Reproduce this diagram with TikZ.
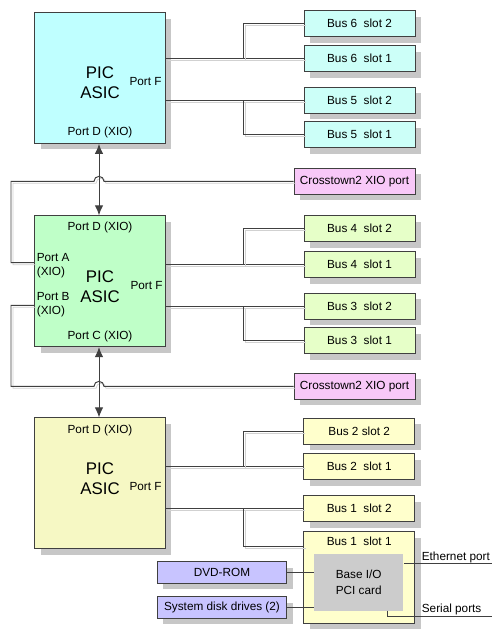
\documentclass[tikz,border=0pt]{standalone}
\usepackage{fontspec}
\setmainfont{Liberation Sans}
\usetikzlibrary{arrows.meta,shadows}
\definecolor{picA}{HTML}{BFFFFF}
\definecolor{busA}{HTML}{CCFFF8}
\definecolor{picB}{HTML}{BFFFC8}
\definecolor{busB}{HTML}{E6FFC8}
\definecolor{picC}{HTML}{F6F8C4}
\definecolor{busC}{HTML}{FFFFCC}
\definecolor{xtown}{HTML}{F8C8F8}
\definecolor{drivecol}{HTML}{C8C4FF}
\definecolor{cardcol}{HTML}{CCCCCC}
\tikzset{
  panel/.style={draw=black!75, line width=0.5pt, inner sep=0pt,
    font=\fontsize{6.7}{7.9}\selectfont,
    drop shadow={shadow xshift=0.12cm, shadow yshift=-0.12cm, fill=black!22, opacity=1}},
  chip/.style={panel, minimum width=2.62cm, minimum height=2.62cm},
  slot/.style={panel, minimum width=2.22cm, minimum height=0.52cm},
  xport/.style={panel, fill=xtown, minimum width=2.42cm, minimum height=0.52cm},
  drivebox/.style={panel, fill=drivecol, minimum width=2.59cm, minimum height=0.43cm},
  lbl/.style={inner sep=0pt, font=\fontsize{6.7}{7.9}\selectfont},
  big/.style={inner sep=0pt, align=center, font=\fontsize{9.6}{11.3}\selectfont},
  lead/.style={draw=black!75, line width=0.55pt},
  wire/.style={lead, preaction={draw=black!18, transform canvas={xshift=0.04cm, yshift=-0.04cm}}},
  link/.style={lead, {Latex[length=0.2cm,width=0.17cm]}-{Latex[length=0.2cm,width=0.17cm]}},
}
\begin{document}
\begin{tikzpicture}[x=0.02cm,y=-0.02cm]
  \useasboundingbox (0,0) rectangle (503,639);
  % PIC ASICs
  \node[chip, fill=picA] (pic1) at (100,78) {};
  \node[chip, fill=picB] (pic2) at (100,281.2) {};
  \node[chip, fill=picC] (pic3) at (100,483.3) {};
  \node[big] (pic1name) at (100,83) {PIC\\ASIC};
  \node[lbl, anchor=east] (pic1f) at (162,82) {Port F};
  \node[lbl] (pic1d) at (100,132) {Port D (XIO)};
  \node[lbl] (pic2d) at (100,227.7) {Port D (XIO)};
  \node[lbl, anchor=west, align=left] (pic2a) at (36.5,265.7) {Port A\\(XIO)};
  \node[lbl, anchor=west, align=left] (pic2b) at (36.5,304.7) {Port B\\(XIO)};
  \node[big] (pic2name) at (100,286.3) {PIC\\ASIC};
  \node[lbl, anchor=east] (pic2f) at (163,285.7) {Port F};
  \node[lbl] (pic2c) at (100,336.7) {Port C (XIO)};
  \node[lbl] (pic3d) at (100,430) {Port D (XIO)};
  \node[big] (pic3name) at (100,478.5) {PIC\\ASIC};
  \node[lbl, anchor=east] (pic3f) at (162,486.7) {Port F};
  % slots
  \node[slot, fill=busA] (b6s2) at (359.5,23.7) {Bus 6\ \ slot 2};
  \node[slot, fill=busA] (b6s1) at (359.5,58.7) {Bus 6\ \ slot 1};
  \node[slot, fill=busA] (b5s2) at (359.5,100.3) {Bus 5\ \ slot 2};
  \node[slot, fill=busA] (b5s1) at (359.5,134.7) {Bus 5\ \ slot 1};
  \node[slot, fill=busB] (b4s2) at (359.5,228.7) {Bus 4\ \ slot 2};
  \node[slot, fill=busB] (b4s1) at (359.5,264.7) {Bus 4\ \ slot 1};
  \node[slot, fill=busB] (b3s2) at (359.5,306.3) {Bus 3\ \ slot 2};
  \node[slot, fill=busB] (b3s1) at (359.5,340.7) {Bus 3\ \ slot 1};
  \node[slot, fill=busC] (b2s2) at (359.2,431.3) {Bus 2 slot 2};
  \node[slot, fill=busC] (b2s1) at (359.2,466.7) {Bus 2\ \ slot 1};
  \node[slot, fill=busC] (b1s2) at (359.2,508.5) {Bus 1\ \ slot 2};
  \node[slot, fill=busC, minimum height=1.83cm] (b1s1) at (359.2,577.5) {};
  \node[lbl] (b1s1name) at (359.2,541.7) {Bus 1\ \ slot 1};
  \node[fill=cardcol, minimum width=1.79cm, minimum height=1.13cm, align=center,
    inner sep=0pt, font=\fontsize{6.7}{8.9}\selectfont] (baseio) at (358.7,582.3) {Base I/O\\PCI card};
  \node[xport] (xt1) at (354.5,181.3) {Crosstown2 XIO port};
  \node[xport] (xt2) at (354.5,386.3) {Crosstown2 XIO port};
  \node[drivebox] (dvd) at (222,572.5) {DVD-ROM};
  \node[drivebox] (disk) at (222,607.5) {System disk drives (2)};
  % bus wiring
  \coordinate (jx) at (243.3,0);
  \coordinate (b1s1in) at (304,546);
  \draw[wire] (b6s1.west) -- (b6s1.west -| pic1.east);
  \draw[wire] (b6s2.west) -- (b6s2.west -| jx) -- (b6s1.west -| jx);
  \draw[wire] (b5s2.west) -- (b5s2.west -| pic1.east);
  \draw[wire] (b5s1.west) -- (b5s1.west -| jx) -- (b5s2.west -| jx);
  \draw[wire] (b4s1.west) -- (b4s1.west -| pic2.east);
  \draw[wire] (b4s2.west) -- (b4s2.west -| jx) -- (b4s1.west -| jx);
  \draw[wire] (b3s2.west) -- (b3s2.west -| pic2.east);
  \draw[wire] (b3s1.west) -- (b3s1.west -| jx) -- (b3s2.west -| jx);
  \draw[wire] (b2s1.west) -- (b2s1.west -| pic3.east);
  \draw[wire] (b2s2.west) -- (b2s2.west -| jx) -- (b2s1.west -| jx);
  \draw[wire] (b1s2.west) -- (b1s2.west -| pic3.east);
  \draw[wire] (b1s1in) -- (b1s1in -| jx) -- (b1s2.west -| jx);
  % XIO ports
  \coordinate (portA) at (34.3,262.7);
  \coordinate (portB) at (34.3,305.3);
  \draw[wire] (portA) -- (11,262.7) -- (11,181.3) -- (94,181.3)
    arc[start angle=180, end angle=0, radius=0.1cm] -- (xt1.west);
  \draw[wire] (portB) -- (11,305.3) -- (11,386.3) -- (94,386.3)
    arc[start angle=180, end angle=0, radius=0.1cm] -- (xt2.west);
  \draw[link] (pic1.south -| 99,0) -- (pic2.north -| 99,0);
  \draw[link] (pic2.south -| 99,0) -- (pic3.north -| 99,0);
  % base I/O
  \coordinate (eth) at (491.7,563.3);
  \coordinate (ser) at (491.7,616.7);
  \coordinate (serout) at (387.7,610.7);
  \draw[lead] (dvd.east) -- (dvd.east -| baseio.west);
  \draw[lead] (disk.east) -- (disk.east -| baseio.west);
  \draw[lead] (baseio.east |- eth) -- (eth);
  \draw[lead] (serout) |- (ser);
  \node[lbl, anchor=base west] (ethname) at (421.5,560.7) {Ethernet port};
  \node[lbl, anchor=base west] (sername) at (421.5,612.3) {Serial ports};
\end{tikzpicture}
\end{document}
